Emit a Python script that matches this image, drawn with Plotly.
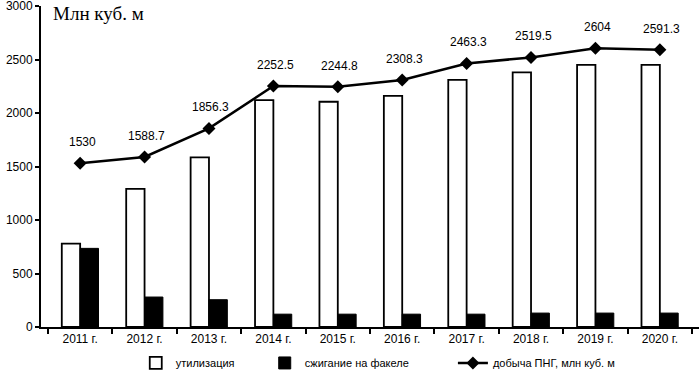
import plotly.graph_objects as go

years = ["2011 г.", "2012 г.", "2013 г.", "2014 г.", "2015 г.", "2016 г.", "2017 г.", "2018 г.", "2019 г.", "2020 г."]
utilization = [780, 1290, 1585, 2120, 2105, 2160, 2310, 2380, 2450, 2450]
flaring = [735, 280, 255, 120, 120, 120, 120, 130, 130, 130]
production = [1530, 1588.7, 1856.3, 2252.5, 2244.8, 2308.3, 2463.3, 2519.5, 2604, 2591.3]
production_labels = ["1530", "1588.7", "1856.3", "2252.5", "2244.8", "2308.3", "2463.3", "2519.5", "2604", "2591.3"]

font = "Liberation Sans, Arial, sans-serif"

fig = go.Figure()
fig.add_trace(go.Bar(x=years, y=utilization, name="утилизация", legend="legend",
                     marker=dict(color="white", line=dict(color="black", width=1.8))))
fig.add_trace(go.Bar(x=years, y=flaring, name="сжигание на факеле", legend="legend2",
                     marker=dict(color="black", line=dict(color="black", width=1))))
fig.add_trace(go.Scatter(x=years, y=production, name="добыча ПНГ, млн куб. м", legend="legend3",
                         mode="lines+markers",
                         line=dict(color="black", width=2.5),
                         marker=dict(symbol="diamond", size=10, color="black")))

for x, y, t in zip(years, production, production_labels):
    fig.add_annotation(x=x, y=y, text=t, showarrow=False, yshift=21, xshift=2,
                       font=dict(family=font, size=12, color="black"))

fig.add_annotation(xref="paper", yref="paper", x=0.0, y=1.0, xanchor="left", yanchor="middle",
                   text="Млн куб. м", showarrow=False, yshift=-7, xshift=10,
                   font=dict(family="Liberation Serif, Times New Roman, serif", size=19, color="black"))

leg_common = dict(orientation="h", y=-0.112, yanchor="middle", xanchor="left",
                  font=dict(family=font, size=11, color="black"), bgcolor="rgba(0,0,0,0)")

fig.update_layout(
    width=699, height=380,
    margin=dict(l=41, r=0, t=6, b=53, autoexpand=False),
    paper_bgcolor="white", plot_bgcolor="white",
    barmode="group", bargap=0.43, bargroupgap=0,
    font=dict(family=font, size=12, color="black"),
    showlegend=True,
    legend=dict(x=0.144, **leg_common),
    legend2=dict(x=0.340, **leg_common),
    legend3=dict(x=0.626, **leg_common),
)
fig.update_xaxes(showline=True, linecolor="black", linewidth=2, ticks="outside",
                 tickson="boundaries", ticklen=5, tickwidth=1.5, tickcolor="black",
                 showgrid=False, tickfont=dict(size=12), automargin=False, fixedrange=True)
fig.update_yaxes(range=[0, 3000], dtick=500, showline=True, linecolor="black", linewidth=2,
                 ticks="outside", ticklen=4, tickwidth=1.5, tickcolor="black",
                 showgrid=False, zeroline=False, tickfont=dict(size=12), automargin=False,
                 ticklabeloverflow="allow", fixedrange=True)

fig.write_html("out.html", config={"displayModeBar": False})

# remove the default page margin so the 699x380 figure fills the window exactly
with open("out.html", encoding="utf-8") as f:
    html = f.read()
html = html.replace("<head>", "<head><style>html,body{margin:0;padding:0;overflow:hidden;}</style>", 1)
with open("out.html", "w", encoding="utf-8") as f:
    f.write(html)
